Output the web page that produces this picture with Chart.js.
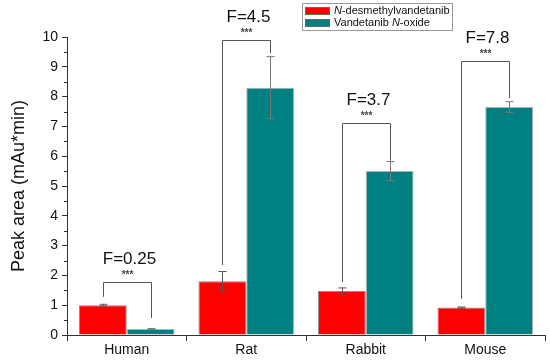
<!DOCTYPE html>
<html>
<head>
<meta charset="utf-8">
<script src="https://cdn.jsdelivr.net/npm/chart.js@4.4.0/dist/chart.umd.min.js"></script>
<style>
  html, body { margin: 0; padding: 0; background: #fff; }
  #wrap { width: 550px; height: 364px; }
</style>
</head>
<body>
<div id="wrap"><canvas id="myChart" width="550" height="364"></canvas></div>
<script>
var categories = ['Human', 'Rat', 'Rabbit', 'Mouse'];
var desmethyl = [1.0, 1.8, 1.48, 0.92];
var desmethylErr = [0.03, 0.33, 0.1, 0.02];
var noxide = [0.2, 8.3, 5.5, 7.65];
var noxideErr = [0.02, 1.04, 0.32, 0.18];
// significance brackets
var fLabels = ['F=0.25', 'F=4.5', 'F=3.7', 'F=7.8'];
var bracketTop = [1.78, 9.9, 7.1, 9.2];
var bracketLeftEnd = [1.28, 2.35, 1.78, 1.21];
var bracketRightEnd = [0.57, 9.46, 5.85, 7.95];

var FONT = "'Liberation Sans', Arial, sans-serif";

var errorBars = {
    id: 'errorBars',
    afterDatasetsDraw: function(chart) {
        var ctx = chart.ctx;
        var y = chart.scales.y;
        var errs = [desmethylErr, noxideErr];
        ctx.save();
        ctx.lineWidth = 1;
        chart.data.datasets.forEach(function(ds, i) {
            var meta = chart.getDatasetMeta(i);
            meta.data.forEach(function(bar, j) {
                var v = ds.data[j];
                var top = y.getPixelForValue(v + errs[i][j]);
                var bot = y.getPixelForValue(v - errs[i][j]);
                var x = Math.round(bar.x) + 0.5;
                ctx.strokeStyle = i == 0 ? '#555' : '#777';
                ctx.beginPath();
                ctx.moveTo(x, top); ctx.lineTo(x, bot);
                ctx.moveTo(x - 4, top); ctx.lineTo(x + 4, top);
                ctx.moveTo(x - 4, bot); ctx.lineTo(x + 4, bot);
                ctx.stroke();
            });
        });
        ctx.restore();
    }
};

var brackets = {
    id: 'brackets',
    afterDatasetsDraw: function(chart) {
        var ctx = chart.ctx;
        var y = chart.scales.y;
        var m0 = chart.getDatasetMeta(0), m1 = chart.getDatasetMeta(1);
        ctx.save();
        categories.forEach(function(c, j) {
            var x1 = Math.round(m0.data[j].x) + 0.5;
            var x2 = Math.round(m1.data[j].x) + 0.5;
            var t = Math.round(y.getPixelForValue(bracketTop[j])) + 0.5;
            ctx.strokeStyle = '#555';
            ctx.lineWidth = 1;
            ctx.beginPath();
            ctx.moveTo(x1, y.getPixelForValue(bracketLeftEnd[j]));
            ctx.lineTo(x1, t);
            ctx.lineTo(x2, t);
            ctx.lineTo(x2, y.getPixelForValue(bracketRightEnd[j]));
            ctx.stroke();
            var mx = (x1 + x2) / 2;
            ctx.fillStyle = '#111';
            ctx.textAlign = 'center';
            ctx.textBaseline = 'middle';
            ctx.font = '17px ' + FONT;
            ctx.fillText(fLabels[j], mx + 2, t - 23);
            ctx.fillStyle = '#444';
            ctx.font = 'bold 10px ' + FONT;
            ctx.fillText('***', mx, t - 7);
        });
        ctx.restore();
    }
};

var minorTicks = {
    id: 'minorTicks',
    afterDraw: function(chart) {
        var ctx = chart.ctx;
        var y = chart.scales.y;
        var left = chart.chartArea.left;
        ctx.save();
        ctx.strokeStyle = '#333';
        ctx.lineWidth = 1;
        ctx.beginPath();
        for (var v = 0.5; v < 10; v += 1) {
            var p = Math.round(y.getPixelForValue(v)) + 0.5;
            ctx.moveTo(left - 3, p); ctx.lineTo(left, p);
        }
        ctx.stroke();
        ctx.restore();
    }
};

var legendBox = {
    id: 'legendBox',
    afterDraw: function(chart) {
        var ctx = chart.ctx;
        ctx.save();
        ctx.strokeStyle = '#999';
        ctx.lineWidth = 1;
        ctx.strokeRect(302.5, 3.5, 150, 27);
        ctx.textBaseline = 'middle';
        ctx.textAlign = 'left';
        chart.data.datasets.forEach(function(ds, i) {
            var yy = 11 + i * 12;
            ctx.fillStyle = ds.backgroundColor;
            ctx.fillRect(305, yy - 4, 25, 8);
            ctx.strokeStyle = '#666';
            ctx.strokeRect(305.5, yy - 3.5, 24, 7);
            var x = 334;
            ctx.fillStyle = '#111';
            var parts = i == 0 ? [['N', true], ['-desmethylvandetanib', false]]
                               : [['Vandetanib ', false], ['N', true], ['-oxide', false]];
            parts.forEach(function(p) {
                ctx.font = (p[1] ? 'italic ' : '') + '11px ' + FONT;
                ctx.fillText(p[0], x, yy);
                x += ctx.measureText(p[0]).width;
            });
        });
        ctx.restore();
    }
};

var ctx = document.getElementById('myChart').getContext('2d');
var chart = new Chart(ctx, {
    type: 'bar',
    data: {
        labels: categories,
        datasets: [{
                label: 'N-desmethylvandetanib',
                backgroundColor: '#ff0000',
                borderColor: 'rgba(90,90,90,0.7)',
                borderWidth: 1,
                data: desmethyl
            }, {
                label: 'Vandetanib N-oxide',
                backgroundColor: '#008080',
                borderColor: 'rgba(60,60,60,0.4)',
                borderWidth: 1,
                data: noxide
            }]
    },
    options: {
        responsive: false,
        animation: false,
        layout: { padding: { top: 37, right: 5, left: 8, bottom: 0 } },
        plugins: {
            legend: { display: false },
            tooltip: { enabled: false }
        },
        datasets: { bar: { categoryPercentage: 0.8, barPercentage: 1.0 } },
        scales: {
            x: {
                grid: { display: true, drawOnChartArea: false, offset: true, tickLength: 6, color: '#333' },
                border: { color: '#333', width: 1 },
                ticks: { color: '#111', font: { family: FONT, size: 14 }, padding: 1 },
                afterFit: function(s) { s.height = 29; }
            },
            y: {
                min: 0,
                max: 10,
                ticks: { stepSize: 1, color: '#111', font: { family: FONT, size: 14 }, padding: 4 },
                grid: { display: true, drawOnChartArea: false, tickLength: 5, color: '#333' },
                border: { color: '#333', width: 1 },
                title: { display: true, text: 'Peak area (mAu*min)', color: '#111', font: { family: FONT, size: 18 }, padding: 0 },
                afterFit: function(s) { s.width = 59; }
            }
        }
    },
    plugins: [errorBars, brackets, minorTicks, legendBox]
});
</script>
</body>
</html>
